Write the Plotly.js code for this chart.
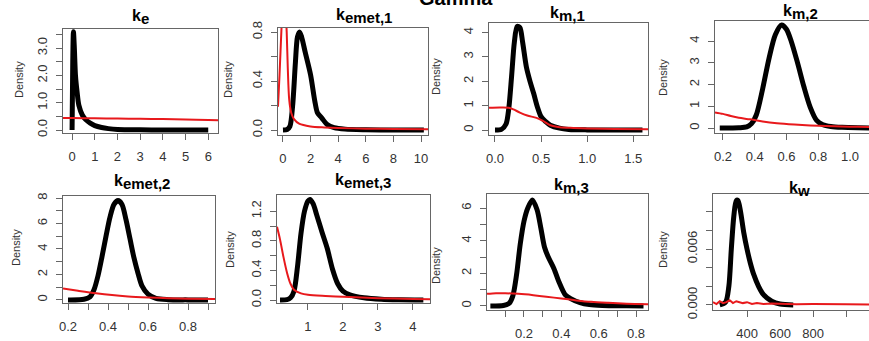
<!DOCTYPE html>
<html>
<head>
<meta charset="utf-8">
<script src="https://cdn.plot.ly/plotly-3.0.1.min.js"></script>
<style>html,body{margin:0;padding:0;background:#fff;}#chart{width:869px;height:341px;}</style>
</head>
<body>
<div id="chart"></div>
<script>
// ---------- DATA ----------
const panelTitles = ["e", "emet,1", "m,1", "m,2", "emet,2", "emet,3", "m,3", "w"];

// k_e
const keX      = [0, 0.03, 0.06, 0.1, 0.15, 0.22, 0.3, 0.45, 0.6, 0.8, 1.0, 1.3, 1.6, 2.0, 3.0, 4.0, 5.0, 6.0];
const keDens   = [0, 2.5, 3.6, 3.0, 2.0, 1.4, 0.9, 0.55, 0.38, 0.25, 0.16, 0.09, 0.05, 0.02, 0.005, 0.002, 0.001, 0];
const kePriorX = [-0.4, 0, 1, 2, 3, 4, 5, 6, 6.43];
const kePrior  = [0.44, 0.44, 0.43, 0.42, 0.41, 0.40, 0.38, 0.37, 0.36];

// k_emet,1
const kemet1X      = [0, 0.3, 0.5, 0.7, 0.9, 1.05, 1.2, 1.35, 1.6, 2.0, 2.3, 2.5, 2.8, 3.2, 3.7, 4.5, 6, 8, 10.2];
const kemet1Dens   = [0, 0.005, 0.03, 0.2, 0.55, 0.76, 0.8, 0.76, 0.64, 0.45, 0.24, 0.14, 0.1, 0.045, 0.02, 0.008, 0.003, 0.001, 0];
const kemet1PriorX = [-0.36, -0.25, -0.1, 0.0, 0.1, 0.2, 0.27, 0.35, 0.45, 0.6, 0.8, 1.2, 2, 3, 4, 6, 8, 10.5];
const kemet1Prior  = [0.19, 0.45, 0.85, 1.1, 1.1, 0.95, 0.8, 0.5, 0.25, 0.14, 0.09, 0.05, 0.03, 0.022, 0.017, 0.012, 0.009, 0.007];

// k_m,1
const km1X      = [0, 0.07, 0.12, 0.15, 0.18, 0.21, 0.24, 0.27, 0.3, 0.34, 0.38, 0.42, 0.46, 0.5, 0.55, 0.6, 0.7, 0.8, 1.0, 1.3, 1.6];
const km1Dens   = [0, 0.03, 0.25, 0.9, 2.2, 3.6, 4.25, 4.2, 3.6, 2.6, 2.0, 1.5, 0.95, 0.55, 0.35, 0.2, 0.08, 0.03, 0.01, 0.005, 0];
const km1PriorX = [-0.065, 0.05, 0.15, 0.2, 0.27, 0.35, 0.45, 0.52, 0.6, 0.7, 0.85, 1.0, 1.3, 1.66];
const km1Prior  = [0.92, 0.93, 0.92, 0.85, 0.72, 0.6, 0.5, 0.38, 0.2, 0.12, 0.09, 0.07, 0.05, 0.04];

// k_m,2
const km2X      = [0.18, 0.3, 0.35, 0.38, 0.41, 0.45, 0.49, 0.53, 0.57, 0.6, 0.63, 0.67, 0.71, 0.75, 0.79, 0.83, 0.88, 0.95, 1.05, 1.12];
const km2Dens   = [0, 0.01, 0.05, 0.2, 0.6, 1.8, 3.2, 4.3, 4.75, 4.55, 4.0, 3.0, 1.9, 0.95, 0.35, 0.15, 0.07, 0.03, 0.01, 0.005];
const km2PriorX = [0.15, 0.2, 0.25, 0.3, 0.37, 0.45, 0.54, 0.65, 0.75, 0.85, 0.95, 1.05, 1.12];
const km2Prior  = [0.72, 0.65, 0.55, 0.47, 0.4, 0.3, 0.22, 0.16, 0.12, 0.09, 0.07, 0.055, 0.05];

// k_emet,2
const kemet2X      = [0.2, 0.28, 0.31, 0.33, 0.35, 0.37, 0.39, 0.41, 0.43, 0.45, 0.47, 0.49, 0.51, 0.53, 0.55, 0.57, 0.6, 0.64, 0.7, 0.8, 0.9];
const kemet2Dens   = [0, 0.05, 0.25, 0.8, 1.9, 3.4, 5.0, 6.5, 7.5, 7.8, 7.5, 6.3, 4.8, 3.3, 2.1, 1.1, 0.45, 0.12, 0.02, 0.005, 0];
const kemet2PriorX = [0.175, 0.25, 0.34, 0.42, 0.5, 0.6, 0.7, 0.8, 0.935];
const kemet2Prior  = [0.9, 0.72, 0.52, 0.38, 0.28, 0.2, 0.14, 0.1, 0.07];

// k_emet,3
const kemet3X      = [0.2, 0.4, 0.5, 0.6, 0.7, 0.8, 0.9, 1.0, 1.06, 1.15, 1.25, 1.4, 1.55, 1.7, 1.85, 2.0, 2.2, 2.6, 3.1, 3.6, 4.3];
const kemet3Dens   = [0, 0.005, 0.03, 0.12, 0.45, 0.9, 1.2, 1.34, 1.36, 1.3, 1.15, 0.92, 0.7, 0.42, 0.22, 0.12, 0.07, 0.03, 0.01, 0.003, 0];
const kemet3PriorX = [0.114, 0.2, 0.3, 0.4, 0.5, 0.6, 0.8, 1.0, 1.5, 2.0, 3.0, 4.0, 4.49];
const kemet3Prior  = [0.99, 0.82, 0.58, 0.37, 0.22, 0.14, 0.09, 0.07, 0.055, 0.045, 0.025, 0.015, 0.012];

// k_m,3
const km3X      = [0.02, 0.09, 0.12, 0.14, 0.16, 0.18, 0.2, 0.22, 0.245, 0.27, 0.29, 0.31, 0.33, 0.36, 0.39, 0.42, 0.45, 0.5, 0.55, 0.62, 0.75, 0.84];
const km3Dens   = [0, 0.03, 0.15, 0.6, 1.9, 3.8, 5.2, 6.0, 6.5, 5.9, 4.8, 3.6, 3.0, 2.3, 1.4, 0.7, 0.45, 0.2, 0.08, 0.03, 0.01, 0];
const km3PriorX = [0.002, 0.05, 0.1, 0.17, 0.25, 0.32, 0.4, 0.48, 0.56, 0.65, 0.75, 0.864];
const km3Prior  = [0.74, 0.78, 0.78, 0.74, 0.66, 0.57, 0.45, 0.34, 0.25, 0.19, 0.14, 0.11];

// k_w
const kwX      = [235, 270, 290, 305, 320, 335, 345, 360, 380, 400, 420, 440, 470, 500, 550, 600, 680];
const kwDens   = [0, 0.0003, 0.002, 0.006, 0.0095, 0.0112, 0.0112, 0.0101, 0.0078, 0.006, 0.0045, 0.0033, 0.002, 0.0011, 0.0004, 0.0001, 0];
const kwPriorX = [194, 215, 235, 255, 275, 295, 315, 335, 355, 375, 400, 430, 460, 500, 550, 600, 700, 800, 900, 1000, 1139];
const kwPrior  = [0.0003, 0.0001, 0.0004, 0.0002, 0.0003, 0.0005, 0.0002, 0.0004, 0.0003, 0.0002, 0.0003, 0.0001, 0.0002, 0.0001, 0.00015, 0.0001, 0.00008, 0.0001, 0.00006, 0.00008, 0.00006];

// tick values and labels
const xTickVals = [
  [0,1,2,3,4,5,6],
  [0,2,4,6,8,10],
  [0,0.5,1.0,1.5],
  [0.2,0.4,0.6,0.8,1.0],
  [0.2,0.3,0.4,0.5,0.6,0.7,0.8,0.9],
  [1,2,3,4],
  [0.1,0.2,0.3,0.4,0.5,0.6,0.7,0.8],
  [400,600,800,1000]
];
const xTickText = [
  ["0","1","2","3","4","5","6"],
  ["0","2","4","6","8","10"],
  ["0.0","0.5","1.0","1.5"],
  ["0.2","0.4","0.6","0.8","1.0"],
  ["0.2","","0.4","","0.6","","0.8",""],
  ["1","2","3","4"],
  ["","0.2","","0.4","","0.6","","0.8"],
  ["400","600","800",""]
];
const yTickVals = [
  [0,0.5,1,1.5,2,2.5,3,3.5],
  [0,0.2,0.4,0.6,0.8],
  [0,1,2,3,4],
  [0,1,2,3,4],
  [0,1,2,3,4,5,6,7,8],
  [0,0.2,0.4,0.6,0.8,1.0,1.2],
  [0,1,2,3,4,5,6],
  [0,0.002,0.004,0.006,0.008,0.010]
];
const yTickText = [
  ["0.0","","1.0","","2.0","","3.0",""],
  ["0.0","","0.4","","0.8"],
  ["0","1","2","3","4"],
  ["0","1","2","3","4"],
  ["0","","2","","4","","6","","8"],
  ["0.0","","0.4","","0.8","","1.2"],
  ["0","","2","","4","","6"],
  ["0.000","","","0.006","",""]
];

// ---------- LAYOUT / STYLE ----------
const W = 869, H = 341;
const series = [
  [keX, keDens, kePriorX, kePrior],
  [kemet1X, kemet1Dens, kemet1PriorX, kemet1Prior],
  [km1X, km1Dens, km1PriorX, km1Prior],
  [km2X, km2Dens, km2PriorX, km2Prior],
  [kemet2X, kemet2Dens, kemet2PriorX, kemet2Prior],
  [kemet3X, kemet3Dens, kemet3PriorX, kemet3Prior],
  [km3X, km3Dens, km3PriorX, km3Prior],
  [kwX, kwDens, kwPriorX, kwPrior]
];
// plot boxes in pixels: [left, right, top, bottom]
const boxes = [
  [63,218,29,133],[278,428,28,135],[489,648,23,135],[715,869,21,133],
  [63,215,196,303],[277,430,195,303],[487,648,194,310],[713,869,194,310]
];
const xRanges = [[-0.40,6.43],[-0.36,10.5],[-0.065,1.66],[0.15,1.12],[0.175,0.935],[0.114,4.49],[0.002,0.864],[194,1139]];
const yRanges = [[-0.11,3.70],[-0.04,0.833],[-0.2,4.39],[-0.23,4.93],[-0.24,8.16],[-0.04,1.42],[-0.25,6.87],[-0.00054,0.0119]];
const titlePos = [[140,17],[364,16],[567,14],[800,12],[142,182],[363,181],[571,186],[799,189]];
const densPos  = [[19,80],[228,80],[436,77],[663,78],[16,248],[230,250],[436,266],[663,250]];
const openRight = [false,false,false,true,false,false,false,true];

const FONT = "Liberation Sans, Arial, Helvetica, sans-serif";
const traces = [];
const layout = {
  width: W, height: H,
  margin: {l:0, r:0, t:0, b:0},
  paper_bgcolor: "#fff", plot_bgcolor: "#fff",
  showlegend: false,
  font: {family: FONT, color: "#333"},
  annotations: []
};

series.forEach((s, i) => {
  const n = i + 1;
  const xa = n === 1 ? "x" : "x" + n;
  const ya = n === 1 ? "y" : "y" + n;
  traces.push({x: s[0], y: s[1], xaxis: xa, yaxis: ya, type: "scatter", mode: "lines",
    line: {color: "#000", width: 5, shape: "spline", smoothing: 0.8}, hoverinfo: "skip"});
  traces.push({x: s[2], y: s[3], xaxis: xa, yaxis: ya, type: "scatter", mode: "lines",
    line: {color: "#e8191c", width: 2, shape: i === 7 ? "linear" : "spline", smoothing: 0.8}, hoverinfo: "skip"});
  const b = boxes[i];
  const axCommon = {
    showgrid: false, zeroline: false, showline: true, linecolor: "#666", linewidth: 1,
    ticks: "outside", ticklen: 6, tickcolor: "#666", tickwidth: 1,
    tickmode: "array", tickfont: {family: FONT, size: 13, color: "#333"}, fixedrange: true
  };
  layout["xaxis" + (n === 1 ? "" : n)] = Object.assign({}, axCommon, {
    domain: [b[0] / W, Math.min(1, b[1] / W)], anchor: ya, range: xRanges[i],
    tickvals: xTickVals[i], ticktext: xTickText[i], mirror: true, ticklabelstandoff: 5
  });
  layout["yaxis" + (n === 1 ? "" : n)] = Object.assign({}, axCommon, {
    domain: [1 - b[3] / H, 1 - b[2] / H], anchor: xa, range: yRanges[i],
    tickvals: yTickVals[i], ticktext: yTickText[i], mirror: openRight[i] ? false : true,
    tickangle: -90, ticklabelstandoff: 4
  });
  layout.annotations.push({
    xref: "paper", yref: "paper", x: titlePos[i][0] / W, y: 1 - titlePos[i][1] / H,
    xanchor: "center", yanchor: "middle", showarrow: false,
    text: "<b>k<sub><span style='font-size:15px'>" + panelTitles[i] + "</span></sub></b>",
    font: {family: FONT, size: 16, color: "#000"}
  });
  layout.annotations.push({
    xref: "paper", yref: "paper", x: densPos[i][0] / W, y: 1 - densPos[i][1] / H,
    xanchor: "center", yanchor: "middle", showarrow: false, textangle: -90,
    text: "Density", font: {family: FONT, size: 11, color: "#333"}
  });
});
layout.annotations.push({
  xref: "paper", yref: "paper", x: 456 / W, y: 1 - 11 / H, xanchor: "center", yanchor: "bottom",
  showarrow: false, text: "<b>Gamma</b>", font: {family: FONT, size: 20, color: "#000"}
});

Plotly.newPlot("chart", traces, layout, {staticPlot: true, displayModeBar: false});
</script>
</body>
</html>
